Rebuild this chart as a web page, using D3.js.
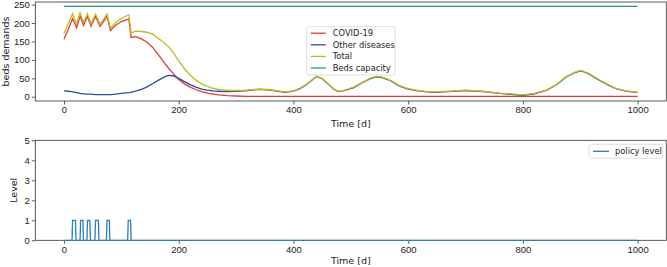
<!DOCTYPE html>
<html>
<head>
<meta charset="utf-8">
<script src="https://cdn.jsdelivr.net/npm/d3@7"></script>
<style>
  body { margin: 0; background: #fff; }
  svg { display: block; font-family: "DejaVu Sans", sans-serif; }
  .tick text { font-size: 9.5px; fill: #222; }
  .tick line, .domain { stroke: #333; stroke-width: 0.8; }
</style>
</head>
<body>
<div id="chart"></div>
<script>
const WIDTH = 667;
const HEIGHT = 267;

// day samples
const days = [0, 8, 15, 22, 28, 34, 41, 47, 55, 63, 75, 81, 90, 100, 113, 117, 125, 135, 145, 155, 165, 175, 182, 190, 200, 210, 220, 230, 240, 250, 260, 270, 285, 300, 320, 340, 360, 385, 400, 411, 420, 430, 440, 450, 460, 470, 478, 490, 505, 520, 535, 545, 555, 570, 585, 600, 620, 643, 670, 700, 730, 760, 800, 820, 841, 860, 875, 890, 901, 915, 933, 950, 962, 980, 1000];
const covid = [156, 185, 212, 187, 219, 194, 218, 191, 218, 191, 218, 180, 194, 204, 211, 161, 163, 157, 148, 133, 113, 92, 78, 64, 47, 35, 26, 19, 14, 10, 7, 5, 3, 2, 1, 1, 1, 1, 1, 1, 1, 1, 1, 1, 1, 1, 1, 1, 1, 1, 1, 1, 1, 1, 1, 1, 1, 1, 1, 1, 1, 1, 1, 1, 1, 1, 1, 1, 1, 1, 1, 1, 1, 1, 1];
const other = [16, 15, 13, 11, 9, 8, 7, 7, 6, 6, 6, 6, 7, 9, 11, 12, 15, 20, 27, 36, 45, 54, 58, 57, 50, 41, 33, 26, 21, 18, 16, 15, 14, 15, 17, 20, 18, 12, 15, 22, 30, 42, 55, 49, 35, 21, 14, 17, 25, 38, 50, 54, 52, 43, 29, 21, 15, 12, 14, 17, 14, 9, 4, 8, 17, 34, 53, 65, 71, 62, 45, 31, 22, 15, 11];
const capacity = 245;

const policyDays = [0, 14, 15, 20, 21, 28, 29, 33, 34, 40, 41, 45, 46, 54, 55, 60, 61, 74, 75, 79, 80, 111, 112, 116, 117, 1000];
const policyLevel = [0, 0, 1, 1, 0, 0, 1, 1, 0, 0, 1, 1, 0, 0, 1, 1, 0, 0, 1, 1, 0, 0, 1, 1, 0, 0];

const xTicks = [0, 200, 400, 600, 800, 1000];
const yTicksTop = [0, 50, 100, 150, 200, 250];
const yTicksBottom = [0, 1, 2, 3, 4, 5];

const COLORS = { covid: "#dc3c3c", other: "#2e4a9a", total: "#bcbd22", capacity: "#23986a", policy: "#2a7fb3" };

const svg = d3.select("#chart").append("svg")
    .attr("width", WIDTH)
    .attr("height", HEIGHT);

const x = d3.scaleLinear().domain([-50, 1050]).range([35.3, 666.3]);
const yTop = d3.scaleLinear().domain([-11.5, 257]).range([101, 2]);
const yBot = d3.scaleLinear().domain([0, 5]).range([240.3, 140.3]);

// ---- top panel
const upper = svg.append("g");
upper.append("rect")
    .attr("x", x(-50)).attr("y", yTop(257))
    .attr("width", x(1050) - x(-50)).attr("height", yTop(-11.5) - yTop(257))
    .attr("fill", "none").attr("stroke", "#333").attr("stroke-width", 0.8);

upper.append("g")
    .attr("transform", `translate(0,${yTop(-11.5)})`)
    .call(d3.axisBottom(x).tickValues(xTicks).tickSize(3.5).tickPadding(2).tickFormat(d3.format("d")))
    .call(g => g.select(".domain").remove());
upper.append("g")
    .attr("transform", `translate(${x(-50)},0)`)
    .call(d3.axisLeft(yTop).tickValues(yTicksTop).tickSize(3.5).tickPadding(2).tickFormat(d3.format("d")))
    .call(g => g.select(".domain").remove());

const rows = days.map((d, i) => ({ d, covid: covid[i], other: other[i], total: covid[i] + other[i] }));

const lineOf = key => d3.line().x(r => x(r.d)).y(r => yTop(r[key]));

upper.append("path").datum(rows).attr("d", lineOf("covid"))
    .attr("fill", "none").attr("stroke", COLORS.covid).attr("stroke-width", 1.3);
upper.append("path").datum(rows).attr("d", lineOf("other"))
    .attr("fill", "none").attr("stroke", COLORS.other).attr("stroke-width", 1.3);
upper.append("path").datum(rows).attr("d", lineOf("total"))
    .attr("fill", "none").attr("stroke", COLORS.total).attr("stroke-width", 1.3);
upper.append("line")
    .attr("x1", x(0)).attr("x2", x(1000))
    .attr("y1", yTop(capacity)).attr("y2", yTop(capacity))
    .attr("stroke", COLORS.capacity).attr("stroke-width", 1.3);

upper.append("text")
    .attr("x", (x(-50) + x(1050)) / 2).attr("y", 127)
    .attr("text-anchor", "middle").attr("font-size", 9.5).attr("fill", "#222")
    .text("Time [d]");
upper.append("text")
    .attr("transform", `translate(9,${(yTop(-11.5) + yTop(257)) / 2}) rotate(-90)`)
    .attr("text-anchor", "middle").attr("font-size", 9.5).attr("fill", "#222")
    .text("beds demands");

// legend top
const legendItems = [
    ["COVID-19", COLORS.covid],
    ["Other diseases", COLORS.other],
    ["Total", COLORS.total],
    ["Beds capacity", COLORS.capacity]
];
const lg = upper.append("g").attr("transform", "translate(306.7,26.7)");
lg.append("rect").attr("width", 88.3).attr("height", 48.3).attr("rx", 2)
    .attr("fill", "#fff").attr("fill-opacity", 0.85).attr("stroke", "#d6d6d6").attr("stroke-width", 0.8);
lg.selectAll("g.item").data(legendItems).enter().append("g")
    .attr("class", "item")
    .attr("transform", (d, i) => `translate(0,${6.5 + i * 11.6})`)
    .each(function(d) {
        const g = d3.select(this);
        g.append("line").attr("x1", 4).attr("x2", 19).attr("stroke", d[1]).attr("stroke-width", 1.3);
        g.append("text").attr("x", 26).attr("dy", "0.35em").attr("font-size", 8.3).attr("fill", "#222").text(d[0]);
    });

// ---- bottom panel
const lower = svg.append("g");
lower.append("rect")
    .attr("x", x(-50)).attr("y", yBot(5))
    .attr("width", x(1050) - x(-50)).attr("height", yBot(0) - yBot(5))
    .attr("fill", "none").attr("stroke", "#333").attr("stroke-width", 0.8);
lower.append("g")
    .attr("transform", `translate(0,${yBot(0)})`)
    .call(d3.axisBottom(x).tickValues(xTicks).tickSize(3.5).tickPadding(2).tickFormat(d3.format("d")))
    .call(g => g.select(".domain").remove());
lower.append("g")
    .attr("transform", `translate(${x(-50)},0)`)
    .call(d3.axisLeft(yBot).tickValues(yTicksBottom).tickSize(3.5).tickPadding(2).tickFormat(d3.format("d")))
    .call(g => g.select(".domain").remove());

const policy = policyDays.map((d, i) => ({ d, v: policyLevel[i] }));
lower.append("path").datum(policy)
    .attr("d", d3.line().x(r => x(r.d)).y(r => yBot(r.v)))
    .attr("fill", "none").attr("stroke", COLORS.policy).attr("stroke-width", 1.3);

lower.append("text")
    .attr("x", (x(-50) + x(1050)) / 2).attr("y", 264)
    .attr("text-anchor", "middle").attr("font-size", 9.5).attr("fill", "#222")
    .text("Time [d]");
lower.append("text")
    .attr("transform", `translate(17,${(yBot(0) + yBot(5)) / 2}) rotate(-90)`)
    .attr("text-anchor", "middle").attr("font-size", 9.5).attr("fill", "#222")
    .text("Level");

const lb = lower.append("g").attr("transform", "translate(589,144.3)");
lb.append("rect").attr("width", 73.7).attr("height", 14).attr("rx", 2)
    .attr("fill", "#fff").attr("stroke", "#d6d6d6").attr("stroke-width", 0.8);
lb.append("line").attr("x1", 4).attr("x2", 20).attr("y1", 7).attr("y2", 7)
    .attr("stroke", COLORS.policy).attr("stroke-width", 1.3);
lb.append("text").attr("x", 26).attr("y", 7).attr("dy", "0.35em")
    .attr("font-size", 8.3).attr("fill", "#222").text("policy level");
</script>
</body>
</html>
